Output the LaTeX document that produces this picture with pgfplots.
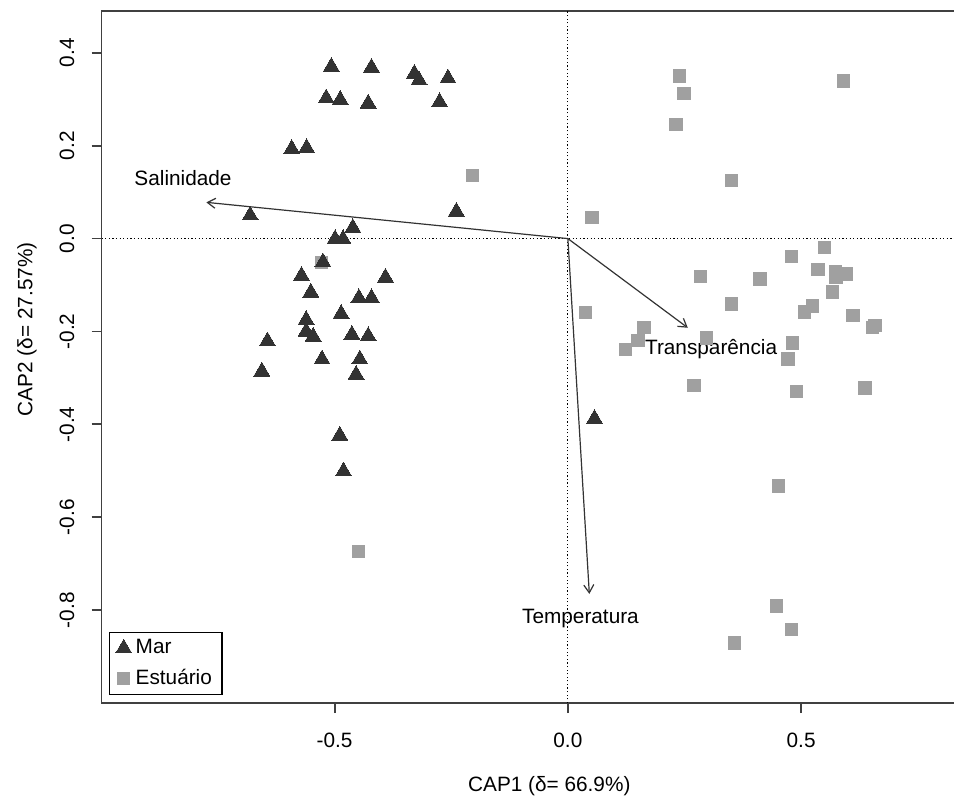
\documentclass[border=0pt]{standalone}
\usepackage{fontspec}
\setmainfont{Liberation Sans}
\usepackage{pgfplots}
\pgfplotsset{compat=1.18}
\usetikzlibrary{arrows.meta}
\definecolor{mar}{HTML}{333333}
\definecolor{est}{HTML}{A0A0A0}
\definecolor{frame}{HTML}{404040}
\begin{document}
\fontsize{10.4bp}{12.5bp}\selectfont
\begin{tikzpicture}
\begin{axis}[
    scale only axis,
    width=427.65bp, height=346.4bp,
    xmin=-0.9995, xmax=0.832,
    ymin=-1.0, ymax=0.49,
    axis line style={frame, line width=0.9bp},
    tick style={frame, line width=0.9bp},
    tick align=outside,
    major tick length=5bp,
    xtick pos=left, ytick pos=left,
    xtick={-0.5,0,0.5},
    xticklabels={-0.5,0.0,0.5},
    ytick={-0.8,-0.6,-0.4,-0.2,0,0.2,0.4},
    yticklabels={-0.8,-0.6,-0.4,-0.2,0.0,0.2,0.4},
    xticklabel style={anchor=north, inner sep=0pt, yshift=-9.8bp},
    yticklabel style={rotate=90, anchor=south, inner sep=0pt, yshift=8.5bp},
    xlabel={CAP1 (δ= 66.9\%)},
    xlabel style={at={(axis description cs:0.524,-0.1198)}, anchor=center, inner sep=0pt},
    ylabel={CAP2 (δ= 27.57\%)},
    ylabel style={at={(axis description cs:-0.0873,0.540)}, anchor=center, inner sep=0pt},
    clip=false,
    reverse legend,
    legend cell align=left,
    legend style={at={(axis description cs:0.0089,0.0115)}, anchor=south west,
        draw=black, line width=0.6bp, inner xsep=3bp, inner ysep=2bp,
        row sep=3bp, nodes={inner xsep=2bp, inner ysep=1.5bp}},
    legend image code/.code={\draw[mark repeat=2,mark phase=2,#1]
        plot coordinates {(0bp,0bp)(5bp,0bp)(10bp,0bp)};},
]
% dotted reference lines
\addplot[forget plot, black, line width=0.5bp, dash pattern=on 0.6bp off 1.2bp]
    coordinates {(0,-1.0) (0,0.49)};
\addplot[forget plot, black, line width=0.5bp, dash pattern=on 0.6bp off 1.2bp]
    coordinates {(-0.9995,0) (0.832,0)};

% Estuario
\addplot[only marks, mark=square*, mark size=3.1bp, color=est,
    mark options={draw=est, fill=est, line width=0pt}] coordinates {
    (-0.205,0.136) (-0.528,-0.052) (0.239,0.350) (0.249,0.313) (0.232,0.246)
    (0.591,0.339) (0.351,0.125) (0.052,0.045) (0.550,-0.019) (0.479,-0.038)
    (0.536,-0.066) (0.574,-0.071) (0.596,-0.076) (0.575,-0.084) (0.284,-0.082)
    (0.412,-0.087) (0.567,-0.115) (0.351,-0.141) (0.524,-0.145) (0.507,-0.158)
    (0.611,-0.165) (0.658,-0.187) (0.653,-0.192) (0.038,-0.159) (0.163,-0.192)
    (0.150,-0.219) (0.123,-0.239) (0.297,-0.214) (0.482,-0.225) (0.472,-0.259)
    (0.270,-0.316) (0.490,-0.329) (0.637,-0.322) (0.451,-0.533) (-0.449,-0.674)
    (0.447,-0.791) (0.480,-0.841) (0.357,-0.871)
};
\addlegendentry{Estuário}

% Mar
\addplot[only marks, mark=triangle*, mark size=4.6bp, color=mar,
    mark options={draw=mar, fill=mar, line width=0pt}] coordinates {
    (-0.507,0.370) (-0.421,0.368) (-0.329,0.355) (-0.319,0.341) (-0.257,0.345)
    (-0.518,0.302) (-0.488,0.299) (-0.428,0.291) (-0.275,0.294) (-0.592,0.193)
    (-0.560,0.195) (-0.681,0.050) (-0.239,0.058) (-0.461,0.023) (-0.499,-0.001)
    (-0.482,-0.001) (-0.525,-0.051) (-0.571,-0.080) (-0.391,-0.084) (-0.551,-0.116)
    (-0.448,-0.128) (-0.421,-0.128) (-0.486,-0.162) (-0.561,-0.175) (-0.561,-0.200)
    (-0.546,-0.211) (-0.463,-0.207) (-0.428,-0.210) (-0.644,-0.221) (-0.527,-0.260)
    (-0.446,-0.260) (-0.656,-0.286) (-0.454,-0.293) (-0.489,-0.424) (-0.481,-0.501)
    (0.057,-0.388)
};
\addlegendentry{Mar}

% environmental vectors
\addplot[forget plot, mar, line width=0.6bp, -{Straight Barb[length=4bp,width=5bp]}]
    coordinates {(0,0) (-0.775,0.078)};
\addplot[forget plot, mar, line width=0.6bp, -{Straight Barb[length=4bp,width=5bp]}]
    coordinates {(0,0) (0.257,-0.192)};
\addplot[forget plot, mar, line width=0.6bp, -{Straight Barb[length=4bp,width=5bp]}]
    coordinates {(0,0) (0.046,-0.765)};

\node at (axis cs:-0.825,0.131) {Salinidade};
\node at (axis cs:0.307,-0.238) {Transparência};
\node at (axis cs:0.027,-0.817) {Temperatura};
\end{axis}
\pgfresetboundingbox
\path[use as bounding box] (-50.85bp,-48bp) rectangle (426.65bp,351.9bp);
\end{tikzpicture}
\end{document}
